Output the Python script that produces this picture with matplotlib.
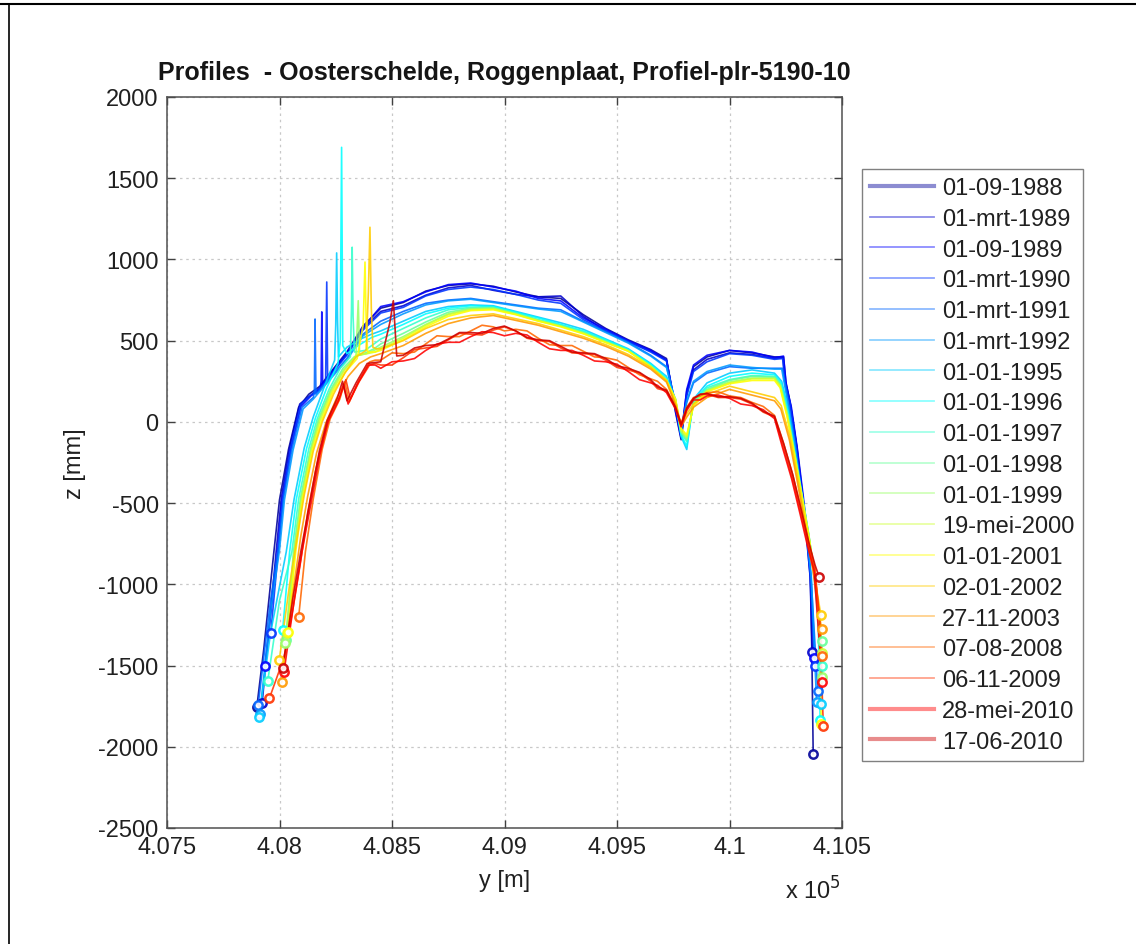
import matplotlib
matplotlib.use('Agg')
import matplotlib.pyplot as plt
from matplotlib.lines import Line2D
import numpy as np

plt.rcParams['font.family'] = ['Liberation Sans', 'DejaVu Sans']
plt.rcParams['axes.unicode_minus'] = False

DATES = ['01-09-1988', '01-mrt-1989', '01-09-1989', '01-mrt-1990', '01-mrt-1991',
         '01-mrt-1992', '01-01-1995', '01-01-1996', '01-01-1997', '01-01-1998',
         '01-01-1999', '19-mei-2000', '01-01-2001', '02-01-2002', '27-11-2003',
         '07-08-2008', '06-11-2009', '28-mei-2010', '17-06-2010']

# shared along-profile grid for the central part of the plate (m)
Y_MID = [408450, 408550, 408650, 408750, 408850, 408950, 409050, 409150, 409250,
         409350, 409450, 409550, 409650, 409720, 409760, 409785, 409810, 409840,
         409900, 410000, 410100, 410200]

# ---- 1988-1992 ----
L_1988 = [(407899, -1757), (407930, -1400), (407975, -800), (408000, -480), (408040, -170),
          (408085, 90), (408130, 170), (408180, 220), (408224, 300), (408299, 430), (408371, 590)]
M_1988 = [700, 735, 805, 840, 850, 835, 800, 770, 760, 660, 575, 505, 445, 390, 60, -110, 170, 340, 400, 440, 425, 400]
R_1988 = [(410240, 400), (410250, 250), (410272, 100), (410300, -160), (410325, -450),
          (410345, -700), (410360, -960), (410366, -1420), (410372, -2044)]

L_1989a = [(407923, -1730), (407985, -800), (408008, -470), (408045, -160), (408090, 110),
           (408140, 165), (408185, 215), (408224, 295), (408299, 415), (408371, 575)]
M_1989a = [680, 715, 780, 825, 840, 810, 785, 770, 775, 650, 560, 495, 435, 380, 90, -80, 190, 320, 385, 425, 415, 390]
R_1989a = [(410238, 395), (410248, 240), (410270, 110), (410298, -150), (410322, -440),
           (410342, -690), (410358, -950), (410368, -1418)]

L_1989b = [(407935, -1500), (407990, -820), (408012, -480), (408050, -170), (408095, 95),
           (408140, 160), (408180, 200), (408185, 250), (408188, 677), (408192, 230),
           (408224, 290), (408299, 420), (408371, 580)]
M_1989b = [710, 740, 800, 845, 855, 830, 805, 760, 745, 640, 570, 500, 440, 380, 70, -100, 200, 350, 410, 440, 430, 395]
R_1989b = [(410240, 405), (410252, 230), (410275, 90), (410302, -170), (410328, -460),
           (410348, -710), (410362, -970), (410377, -1454)]

L_1990 = [(407961, -1300), (407995, -790), (408015, -470), (408050, -160), (408095, 110),
          (408145, 170), (408190, 220), (408205, 250), (408210, 861), (408214, 260),
          (408240, 310), (408299, 410), (408371, 565)]
M_1990 = [670, 705, 775, 815, 830, 815, 785, 750, 730, 630, 560, 495, 430, 375, 100, -90, 160, 310, 370, 420, 410, 385]
R_1990 = [(410236, 390), (410246, 250), (410268, 120), (410296, -140), (410320, -430),
          (410340, -680), (410358, -940), (410380, -1500)]

L_1991 = [(407905, -1745), (407960, -1100), (407995, -780), (408018, -470), (408055, -170),
          (408100, 90), (408150, 150), (408155, 180), (408158, 633), (408162, 170),
          (408224, 270), (408299, 390), (408371, 540)]
M_1991 = [620, 680, 730, 750, 760, 740, 720, 700, 690, 620, 555, 490, 410, 340, 120, -60, 120, 240, 300, 340, 330, 330]
R_1991 = [(410235, 330), (410262, 120), (410290, -120), (410318, -420), (410342, -680),
          (410362, -950), (410392, -1654)]

L_1992 = [(407912, -1800), (407965, -1120), (408000, -790), (408022, -480), (408060, -175),
          (408105, 80), (408150, 140), (408224, 260), (408299, 380), (408371, 530)]
M_1992 = [600, 665, 720, 745, 755, 735, 715, 695, 680, 615, 550, 485, 405, 335, 110, -50, 130, 250, 310, 350, 335, 325]
R_1992 = [(410232, 325), (410260, 110), (410290, -130), (410318, -430), (410344, -690),
          (410364, -960), (410387, -1726)]

# ---- 1995-2001 ----
L_1995 = [(407910, -1815), (407960, -1300), (408030, -800), (408065, -475), (408110, -160),
          (408150, 30), (408200, 220), (408245, 380), (408250, 600), (408254, 1040),
          (408258, 620), (408262, 400), (408300, 460), (408360, 510), (408410, 540)]
M_1995 = [560, 620, 680, 710, 720, 715, 680, 645, 610, 570, 510, 450, 360, 280, 140, -90, -170, 140, 240, 300, 320, 300]
R_1995 = [(410232, 250), (410262, 70), (410292, -190), (410322, -440), (410352, -690),
          (410378, -950), (410395, -1200), (410406, -1736)]

L_1996 = [(408014, -1281), (408045, -800), (408075, -475), (408120, -165), (408160, 25),
          (408210, 210), (408260, 360), (408270, 500), (408276, 1690), (408281, 470),
          (408300, 420), (408350, 470), (408410, 520)]
M_1996 = [540, 600, 665, 700, 715, 710, 675, 640, 600, 560, 505, 445, 355, 270, 130, -80, -150, 130, 220, 280, 300, 290]
R_1996 = [(410230, 240), (410260, 60), (410290, -200), (410320, -450), (410350, -700),
          (410376, -960), (410394, -1200), (410403, -1834)]

L_1997 = [(407948, -1593), (408000, -1100), (408055, -800), (408085, -475), (408130, -167),
          (408168, 20), (408220, 200), (408270, 330), (408315, 400), (408320, 700),
          (408323, 1075), (408327, 650), (408333, 430), (408380, 440), (408420, 480)]
M_1997 = [510, 575, 640, 690, 705, 705, 670, 630, 595, 555, 500, 440, 345, 260, 120, -70, -120, 120, 210, 260, 285, 280]
R_1997 = [(410228, 230), (410258, 50), (410290, -200), (410321, -450), (410352, -700),
          (410378, -950), (410400, -1200), (410409, -1500)]

L_1998 = [(408030, -1340), (408062, -800), (408093, -470), (408138, -165), (408173, 15),
          (408226, 195), (408282, 330), (408332, 400), (408382, 425), (408420, 450)]
M_1998 = [480, 545, 615, 675, 700, 700, 665, 625, 590, 550, 495, 440, 345, 260, 130, -60, -110, 115, 200, 255, 280, 275]
R_1998 = [(410228, 225), (410258, 45), (410290, -205), (410322, -455), (410352, -705),
          (410380, -960), (410409, -1347)]

L_1999 = [(408024, -1363), (408065, -800), (408096, -475), (408140, -170), (408176, 10),
          (408228, 190), (408285, 320), (408340, 400), (408350, 746), (408356, 410),
          (408385, 420), (408420, 440)]
M_1999 = [460, 525, 600, 665, 695, 700, 665, 625, 590, 548, 492, 438, 343, 258, 135, -60, -100, 110, 195, 245, 270, 270]
R_1999 = [(410226, 225), (410258, 40), (410292, -210), (410323, -460), (410354, -710),
          (410380, -960), (410400, -1200), (410413, -1568)]

L_2000 = [(408035, -1300), (408068, -800), (408099, -480), (408143, -170), (408180, 5),
          (408232, 185), (408290, 320), (408340, 410), (408390, 420), (408425, 430)]
M_2000 = [450, 515, 595, 660, 690, 695, 662, 622, 588, 545, 490, 436, 340, 255, 140, -50, -90, 100, 190, 240, 265, 265]
R_2000 = [(410225, 220), (410256, 40), (410290, -210), (410322, -460), (410353, -710),
          (410380, -960), (410410, -1420)]

L_2001 = [(408039, -1291), (408072, -800), (408103, -480), (408148, -170), (408185, 0),
          (408236, 180), (408295, 310), (408345, 390), (408372, 600), (408380, 984),
          (408386, 560), (408392, 430), (408425, 430)]
M_2001 = [440, 505, 585, 650, 685, 690, 660, 620, 585, 542, 488, 435, 338, 252, 140, -40, -80, 100, 185, 235, 255, 255]
R_2001 = [(410225, 210), (410256, 30), (410290, -215), (410322, -465), (410354, -715),
          (410382, -970), (410398, -1200), (410408, -1857)]

# ---- 2002-2003 ----
L_2002 = [(407999, -1466), (408045, -1000), (408080, -700), (408110, -450), (408150, -180),
          (408190, 0), (408240, 170), (408290, 300), (408340, 400), (408385, 440),
          (408395, 800), (408402, 1198), (408408, 700), (408415, 460), (408430, 450)]
M_2002 = [450, 500, 575, 630, 655, 665, 635, 605, 565, 525, 475, 415, 335, 255, 115, -20, 50, 110, 170, 220, 185, 150]
R_2002 = [(410230, 100), (410268, -90), (410305, -360), (410340, -640), (410372, -900), (410406, -1189)]

L_2003 = [(408010, -1603), (408060, -1050), (408095, -700), (408125, -460), (408165, -190),
          (408205, -10), (408255, 150), (408305, 280), (408355, 360), (408405, 400)]
M_2003 = [420, 470, 545, 605, 640, 655, 625, 595, 555, 515, 465, 405, 325, 245, 105, -30, 30, 90, 150, 200, 165, 130]
R_2003 = [(410228, 80), (410266, -110), (410303, -380), (410338, -660), (410370, -910), (410409, -1275)]

# ---- 2008-2010 ----
L_2008 = [(408085, -1203), (408115, -800), (408150, -475), (408190, -167), (408225, 18),
          (408268, 140), (408290, 246), (408310, 122), (408350, 246), (408400, 369), (408425, 380),
          (408500, 425), (408600, 430), (408700, 530), (408800, 525), (408900, 595),
          (409000, 560), (409100, 560), (409200, 475), (409300, 470), (409400, 400),
          (409500, 380), (409600, 290), (409680, 250),
          (409870, 160), (409950, 185), (410050, 150), (410150, 95)]
M_2008 = [380, 420, 480, 525, 560, 585, 570, 515, 470, 435, 395, 335, 265, 200, 95, -10, 90, 150, 180, 160, 120, 40]
R_2008 = [(410240, -130), (410280, -320), (410320, -550), (410350, -730), (410380, -900), (410413, -1439)]

L_2009 = [(407955, -1702), (408020, -1450), (408060, -1150), (408095, -850), (408125, -560),
          (408160, -300), (408195, -100), (408230, 60), (408270, 160), (408295, 260),
          (408315, 140), (408355, 250), (408400, 350), (408425, 360),
          (408500, 350), (408600, 445), (408700, 465), (408800, 545), (408900, 535),
          (409000, 585), (409100, 515), (409200, 495), (409300, 425), (409400, 415),
          (409500, 335), (409600, 300), (409680, 205),
          (409870, 170), (409950, 150), (410050, 140), (410150, 60)]
M_2009 = [350, 395, 455, 505, 540, 565, 560, 500, 455, 420, 380, 320, 250, 190, 85, -20, 80, 140, 170, 150, 110, 30]
R_2009 = [(410238, -150), (410278, -340), (410318, -570), (410348, -750), (410378, -910),
          (410400, -1200), (410417, -1870)]

L_2010a = [(408020, -1540), (408065, -1100), (408100, -800), (408140, -500), (408180, -200),
           (408215, 0), (408262, 130), (408285, 230), (408305, 110), (408345, 230),
           (408395, 350), (408425, 350),
           (408500, 370), (408600, 390), (408700, 480), (408800, 490), (408900, 555),
           (409000, 530), (409100, 535), (409200, 450), (409300, 440), (409400, 375),
           (409500, 355), (409600, 260), (409680, 225),
           (409870, 135), (409950, 165), (410050, 110), (410150, 75)]
M_2010a = [330, 375, 440, 490, 525, 550, 545, 490, 440, 410, 370, 310, 240, 180, 80, -30, 70, 135, 160, 145, 100, 20]
R_2010a = [(410236, -160), (410276, -350), (410316, -580), (410346, -760), (410376, -920), (410412, -1600)]

L_2010b = [(408014, -1517), (408060, -1080), (408097, -780), (408137, -480), (408177, -180),
           (408212, 10), (408258, 150), (408280, 250), (408300, 130), (408340, 240),
           (408390, 360), (408491, 615), (408506, 746), (408521, 406),
           (408600, 455), (408700, 475), (408800, 550), (408900, 545), (409000, 590),
           (409100, 520), (409200, 500), (409300, 430), (409400, 420), (409500, 345),
           (409600, 305), (409680, 215),
           (409870, 170), (409950, 155), (410050, 145), (410150, 65)]
M_2010b = [370, 410, 470, 510, 550, 575, 560, 505, 465, 425, 390, 330, 260, 195, 90, -15, 85, 145, 175, 155, 115, 35]
R_2010b = [(410242, -140), (410282, -330), (410322, -560), (410352, -740), (410380, -880), (410399, -957)]

LEFT = [L_1988, L_1989a, L_1989b, L_1990, L_1991, L_1992, L_1995, L_1996, L_1997, L_1998,
        L_1999, L_2000, L_2001, L_2002, L_2003, L_2008, L_2009, L_2010a, L_2010b]
MID = [M_1988, M_1989a, M_1989b, M_1990, M_1991, M_1992, M_1995, M_1996, M_1997, M_1998,
       M_1999, M_2000, M_2001, M_2002, M_2003, M_2008, M_2009, M_2010a, M_2010b]
RIGHT = [R_1988, R_1989a, R_1989b, R_1990, R_1991, R_1992, R_1995, R_1996, R_1997, R_1998,
         R_1999, R_2000, R_2001, R_2002, R_2003, R_2008, R_2009, R_2010a, R_2010b]

X_TICKS = [407500, 408000, 408500, 409000, 409500, 410000, 410500]
X_TICK_LABELS = ['4.075', '4.08', '4.085', '4.09', '4.095', '4.1', '4.105']
Y_TICKS = [2000, 1500, 1000, 500, 0, -500, -1000, -1500, -2000, -2500]

# MATLAB-style jet(19) palette
JET19 = [(0, 0, 0.6), (0, 0, 0.8), (0, 0, 1), (0, 0.2, 1), (0, 0.4, 1), (0, 0.6, 1),
         (0, 0.8, 1), (0, 1, 1), (0.2, 1, 0.8), (0.4, 1, 0.6), (0.6, 1, 0.4), (0.8, 1, 0.2),
         (1, 1, 0), (1, 0.8, 0), (1, 0.6, 0), (1, 0.4, 0), (1, 0.2, 0), (1, 0, 0), (0.8, 0, 0)]

W, H = 1136, 945
fig = plt.figure(figsize=(W / 100, H / 100), dpi=100)
ax = fig.add_axes([167 / W, 1 - 829 / H, (842 - 167) / W, (829 - 98) / H])

thick = {0, 17, 18}
handles = []
for i, date in enumerate(DATES):
    c = JET19[i]
    pts = list(LEFT[i]) + list(zip(Y_MID, MID[i])) + list(RIGHT[i])
    pts.sort(key=lambda p: p[0])
    xs = [p[0] for p in pts]
    zs = [p[1] for p in pts]
    ax.plot(xs, zs, color=c, lw=1.2, alpha=0.88, zorder=2)
    ax.plot([xs[0], xs[-1]], [zs[0], zs[-1]], ls='none', marker='o', ms=6,
            mfc='white', mec=c, mew=1.8, alpha=0.9, zorder=3)
    handles.append(Line2D([], [], color=c, lw=(3 if i in thick else 1.3), alpha=0.45))

ax.set_xlim(407500, 410500)
ax.set_ylim(-2500, 2000)
ax.set_xticks(X_TICKS)
ax.set_xticklabels(X_TICK_LABELS)
ax.set_yticks(Y_TICKS)
ax.grid(True, ls=(0, (2, 3)), color='#c8c8c8', lw=0.9)
ax.set_axisbelow(True)
ax.tick_params(direction='in', length=6, width=1, top=True, right=True,
               labelsize=17, colors='#404040', labelcolor='#202020', pad=6)
for s in ax.spines.values():
    s.set_color('#505050')
    s.set_linewidth(1.1)

ax.set_xlabel('y [m]', fontsize=17, color='#202020', labelpad=8)
ax.set_ylabel('z [mm]', fontsize=17, color='#202020', labelpad=9)
ax.set_title('Profiles  - Oosterschelde, Roggenplaat, Profiel-plr-5190-10',
             fontsize=18, fontweight='bold', color='#151515', pad=13)
fig.text(785 / W, 1 - 891 / H, r'x 10$^{5}$', fontsize=17, color='#202020',
         ha='left', va='center')

leg = ax.legend(handles, DATES, loc='upper left', bbox_to_anchor=(862 / W, 1 - 170 / H),
                bbox_transform=fig.transFigure, fontsize=17, frameon=True, fancybox=False,
                edgecolor='#606060', borderaxespad=0, handlelength=2.7, handletextpad=0.35,
                labelspacing=0.37, borderpad=0.35)
leg.get_frame().set_linewidth(1.0)
for t in leg.get_texts():
    t.set_color('#202020')

# outer page frame
fig.add_artist(Line2D([0, 1], [1 - 4.5 / H, 1 - 4.5 / H], color='black', lw=1.5,
                      transform=fig.transFigure))
fig.add_artist(Line2D([8.5 / W, 8.5 / W], [0, 1 - 4.5 / H], color='black', lw=1.2,
                      transform=fig.transFigure))

fig.savefig('out.png', dpi=100)
